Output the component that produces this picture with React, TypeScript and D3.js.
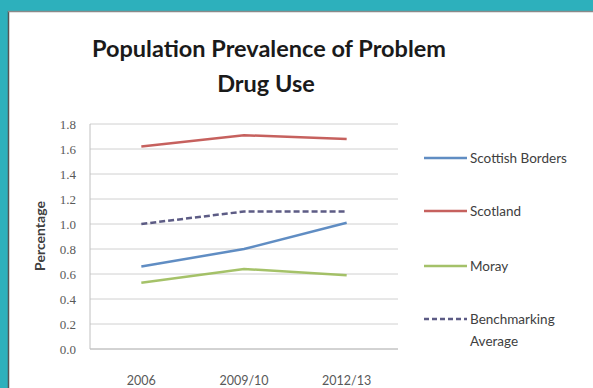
import React from "react";
import * as d3 from "d3";

const categories = ["2006", "2009/10", "2012/13"];
const scottishBorders = [0.66, 0.8, 1.01];
const scotland = [1.62, 1.71, 1.68];
const moray = [0.53, 0.64, 0.59];
const benchmarking = [1.0, 1.1, 1.1];
const yTicks = [0, 0.2, 0.4, 0.6, 0.8, 1.0, 1.2, 1.4, 1.6, 1.8];

const seriesList = [
  { name: ["Scottish Borders"], values: scottishBorders, color: "#4f81bd", dash: "" },
  { name: ["Scotland"], values: scotland, color: "#c0504d", dash: "" },
  { name: ["Moray"], values: moray, color: "#9bbb59", dash: "" },
  { name: ["Benchmarking", "Average"], values: benchmarking, color: "#4b4a78", dash: "6,3" },
];

const W = 593;
const H = 388;
const plot = { left: 90, right: 398, top: 124, bottom: 349 };

export default function App() {
  const x = d3
    .scaleBand<string>()
    .domain(categories)
    .range([plot.left, plot.right]);
  const y = d3.scaleLinear().domain([0, 1.8]).range([plot.bottom, plot.top]);
  const line = d3
    .line<number>()
    .x((_, i) => (x(categories[i]) as number) + x.bandwidth() / 2)
    .y((d) => y(d));

  const sans = "Lato, 'Open Sans', sans-serif";
  const legendY = [158, 211, 266, 319];

  return (
    <svg
      width={W}
      height={H}
      style={{ position: "absolute", left: 0, top: 0, display: "block" }}
    >
      <rect x={0} y={0} width={W} height={H} fill="#2db0bc" />
      <rect x={8} y={11} width={W - 8} height={H - 11} fill="#ffffff" />
      <line x1={8.5} y1={11} x2={8.5} y2={H} stroke="#555" strokeWidth={1.5} />
      <line x1={8} y1={11.5} x2={W} y2={11.5} stroke="#8a8a8a" strokeWidth={1.5} />

      <text
        x={269}
        y={57}
        textAnchor="middle"
        fontFamily={sans}
        fontWeight={700}
        fontSize={23.5}
        fill="#1a1a1a"
      >
        Population Prevalence of Problem
      </text>
      <text
        x={266}
        y={92}
        textAnchor="middle"
        fontFamily={sans}
        fontWeight={700}
        fontSize={23.5}
        fill="#1a1a1a"
      >
        Drug Use
      </text>

      {yTicks.map((t) => (
        <g key={t}>
          <line
            x1={plot.left}
            x2={plot.right}
            y1={y(t)}
            y2={y(t)}
            stroke={t === 0 ? "#a6a6a6" : "#d0d0d0"}
            strokeWidth={1}
          />
          <text
            x={plot.left - 14}
            y={y(t)}
            dy="0.35em"
            textAnchor="end"
            fontFamily="'Liberation Serif', serif"
            fontSize={13}
            fill="#595959"
          >
            {d3.format(".1f")(t)}
          </text>
        </g>
      ))}
      <line
        x1={plot.left}
        x2={plot.left}
        y1={plot.top}
        y2={plot.bottom}
        stroke="#c0c0c0"
      />

      {categories.map((c) => (
        <text
          key={c}
          x={(x(c) as number) + x.bandwidth() / 2}
          y={385}
          textAnchor="middle"
          fontFamily={sans}
          fontSize={12.5}
          fill="#595959"
        >
          {c}
        </text>
      ))}

      <text
        transform={`translate(45,236) rotate(-90)`}
        textAnchor="middle"
        fontFamily={sans}
        fontWeight={700}
        fontSize={14}
        fill="#404040"
      >
        Percentage
      </text>

      {seriesList.map((s) => (
        <path
          key={s.name.join(" ")}
          d={line(s.values) || ""}
          fill="none"
          stroke={s.color}
          strokeWidth={2.5}
          strokeDasharray={s.dash}
          opacity={0.9}
        />
      ))}

      {seriesList.map((s, i) => (
        <g key={"lg" + i}>
          <line
            x1={424}
            x2={467}
            y1={legendY[i]}
            y2={legendY[i]}
            stroke={s.color}
            strokeWidth={2.5}
            strokeDasharray={s.dash ? "5,3" : ""}
            opacity={0.9}
          />
          {s.name.map((n, j) => (
            <text
              key={n}
              x={470}
              y={legendY[i] + j * 22}
              dy="0.35em"
              fontFamily={sans}
              fontSize={13.5}
              fill="#404040"
            >
              {n}
            </text>
          ))}
        </g>
      ))}
    </svg>
  );
}
